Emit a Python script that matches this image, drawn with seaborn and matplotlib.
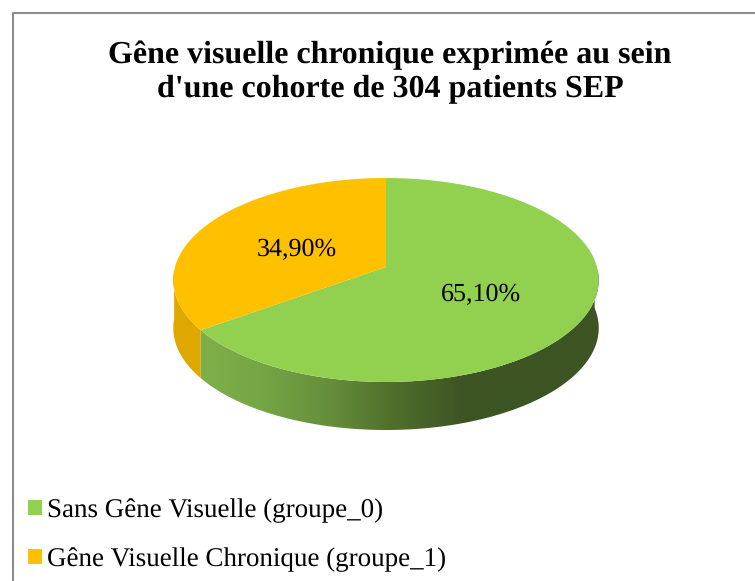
import numpy as np
import matplotlib
matplotlib.use('Agg')
import matplotlib.pyplot as plt
import matplotlib.patches as patches
import seaborn as sns

groups = ['Sans Gêne Visuelle (groupe_0)', 'Gêne Visuelle Chronique (groupe_1)']
shares = [65.10, 34.90]
top_colors = ['#92D050', '#FFC000']
side_orange = '#DFA800'
side_green = ['#7FB14B', '#76A645', '#668F3B', '#4F6E2C', '#3D5423', '#3D5423', '#3D5423']
title = "Gêne visuelle chronique exprimée au sein\nd'une cohorte de 304 patients SEP"

sns.set_theme(style='white')
plt.rcParams['font.family'] = ['Liberation Serif', 'DejaVu Serif']
plt.rcParams['text.hinting'] = 'no_hinting'
plt.rcParams['text.hinting_factor'] = 1

# perspective du disque, en pixels de l'image
CX, APEX_Y, A_X, A_Y, K = 386, 267, 211, -66.3, 0.1275
DEPTH = 48


def project(u, v):
    w = 1 + K * v
    return CX + A_X * u / w, (A_Y * v + APEX_Y) / w


def arc(t1, t2, n=200):
    # angles matplotlib (degres, sens direct depuis l'est)
    t = np.radians(np.linspace(t1, t2, n))
    return project(np.cos(t), np.sin(t))


fig = plt.figure(figsize=(7.55, 5.81), dpi=100)
ax = fig.add_axes([0, 0, 1, 1])

wedges, _, pcts = ax.pie(shares, colors=top_colors, startangle=90, counterclock=False,
                         autopct=lambda p: f'{p:.2f}%'.replace('.', ','), pctdistance=0.49,
                         textprops={'fontsize': 18.7, 'color': 'black'})
ax.set_aspect('auto')
ax.set_axis_on()
ax.set_frame_on(False)
ax.set_xticks([])
ax.set_yticks([])

# le pie sert aux angles, le dessin passe par la perspective
angles = [(w.theta1, w.theta2) for w in wedges]
for w in wedges:
    w.remove()

# tranche: on dessine d'abord l'epaisseur
xa, ya = arc(*angles[0])
front = ya > 260
xa, ya = xa[front], ya[front]
poly_green = np.column_stack([np.r_[xa, xa[::-1]], np.r_[ya, ya[::-1] + DEPTH]])
clip = patches.Polygon(poly_green, closed=True, transform=ax.transData, facecolor='none', edgecolor='none')
ax.add_patch(clip)
cmap = sns.blend_palette(side_green, n_colors=256, as_cmap=True)
img = ax.imshow(np.linspace(0, 1, 256)[None, :], cmap=cmap, extent=[190, 600, 440, 270],
                aspect='auto', zorder=1)
img.set_clip_path(clip)

xb, yb = arc(*angles[1])
front = (yb > 270) & (xb < 300)
xb, yb = xb[front], yb[front]
ax.fill(np.r_[xb, xb[::-1]], np.r_[yb, yb[::-1] + DEPTH], color=side_orange, lw=0, zorder=1)

# faces du dessus
for (t1, t2), col in zip(angles, top_colors):
    xt, yt = arc(t1, t2)
    ax.fill(np.r_[CX, xt], np.r_[APEX_Y, yt], color=col, lw=0, zorder=2)

ax.set_xlim(0, 755)
ax.set_ylim(581, 0)

# etiquettes: position du pie ramenee dans la perspective
for txt in pcts:
    px, py = txt.get_position()
    qx, qy = project(px, py)
    txt.set_position((qx, qy + 5))
    txt.set_zorder(3)

ax.text(390, 72, title, ha='center', va='center', fontsize=23, fontweight='bold',
        linespacing=1.23, color='black')

# cadre ouvert a droite et en bas
ax.plot([12.5, 12.5, 755], [581, 12.5, 12.5], color='#8C8C8C', lw=1.5, solid_capstyle='butt')

handles = [patches.Patch(color=c, lw=0) for c in top_colors]
ax.legend(handles, groups, loc='upper left', bbox_to_anchor=(28 / 755, 1 - 498 / 581), frameon=False,
          fontsize=19.1, handlelength=0.52, handleheight=0.52, handletextpad=0.2,
          labelspacing=0.93, borderpad=0, borderaxespad=0, labelcolor='black')

fig.savefig('out.png', dpi=100)
